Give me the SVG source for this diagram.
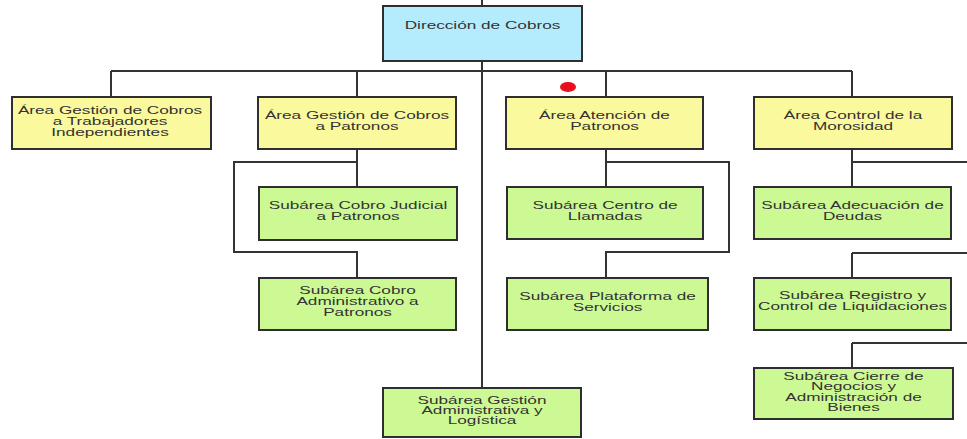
<svg xmlns="http://www.w3.org/2000/svg" width="967" height="439" viewBox="0 0 967 439">
<style>
.bx{stroke:#2e2e2e;stroke-width:2}
.top{fill:#b5ecfd}
.area{fill:#fbf99e}
.sub{fill:#cdf995}
.t{font-family:"Liberation Sans",Arial,sans-serif;font-size:10px;fill:#333;text-anchor:middle}
.c{fill:none;stroke:#333;stroke-width:2}
</style>
<rect width="967" height="439" fill="#fff"/>
<g id="connectors">
<path class="c" d="M482 0V6M482 61V388M111 71H852M111 71V97M357 71V97M606 71V97M852 71V97"/>
<path class="c" d="M357 149V187M357 162H234V252H357V278"/>
<path class="c" d="M606 149V187M606 162H729V252H606V278"/>
<path class="c" d="M852 149V187M852 162H968M852 253H968M852 253V278M852 343H968M852 343V368"/>
</g>
<ellipse cx="568" cy="87" rx="8" ry="5" fill="#e8101e"/>
<g id="n0"><rect class="bx top" x="383" y="6" width="199" height="55"/>
<text class="t" transform="translate(482.5 0) scale(1.72 1)"><tspan x="0" y="29.5">Dirección de Cobros</tspan></text></g>
<g id="n1"><rect class="bx area" x="12" y="97" width="199" height="52"/>
<text class="t" transform="translate(110 0) scale(1.72 1)"><tspan x="0" y="114.5">Área Gestión de Cobros</tspan><tspan x="0" y="125.5">a Trabajadores</tspan><tspan x="0" y="136.5">Independientes</tspan></text></g>
<g id="n2"><rect class="bx area" x="258" y="97" width="198" height="52"/>
<text class="t" transform="translate(357 0) scale(1.72 1)"><tspan x="0" y="119.5">Área Gestión de Cobros</tspan><tspan x="0" y="130.5">a Patronos</tspan></text></g>
<g id="n3"><rect class="bx area" x="506" y="97" width="197" height="52"/>
<text class="t" transform="translate(604.5 0) scale(1.72 1)"><tspan x="0" y="119.5">Área Atención de</tspan><tspan x="0" y="130.5">Patronos</tspan></text></g>
<g id="n4"><rect class="bx area" x="754" y="97" width="198" height="52"/>
<text class="t" transform="translate(853 0) scale(1.72 1)"><tspan x="0" y="119.5">Área Control de la</tspan><tspan x="0" y="130.5">Morosidad</tspan></text></g>
<g id="n5"><rect class="bx sub" x="259" y="187" width="198" height="53"/>
<text class="t" transform="translate(358 0) scale(1.72 1)"><tspan x="0" y="209.5">Subárea Cobro Judicial</tspan><tspan x="0" y="220.5">a Patronos</tspan></text></g>
<g id="n6"><rect class="bx sub" x="259" y="278" width="197" height="52"/>
<text class="t" transform="translate(357.5 0) scale(1.72 1)"><tspan x="0" y="294.5">Subárea Cobro</tspan><tspan x="0" y="305.5">Administrativo a</tspan><tspan x="0" y="316.5">Patronos</tspan></text></g>
<g id="n7"><rect class="bx sub" x="507" y="187" width="196" height="52"/>
<text class="t" transform="translate(605 0) scale(1.72 1)"><tspan x="0" y="209.5">Subárea Centro de</tspan><tspan x="0" y="220.5">Llamadas</tspan></text></g>
<g id="n8"><rect class="bx sub" x="507" y="278" width="201" height="52"/>
<text class="t" transform="translate(607.5 0) scale(1.72 1)"><tspan x="0" y="300.5">Subárea Plataforma de</tspan><tspan x="0" y="311.5">Servicios</tspan></text></g>
<g id="n9"><rect class="bx sub" x="754" y="187" width="197" height="52"/>
<text class="t" transform="translate(852.5 0) scale(1.72 1)"><tspan x="0" y="209.5">Subárea Adecuación de</tspan><tspan x="0" y="220.5">Deudas</tspan></text></g>
<g id="n10"><rect class="bx sub" x="754" y="278" width="197" height="52"/>
<text class="t" transform="translate(852.5 0) scale(1.72 1)"><tspan x="0" y="299.5">Subárea Registro y</tspan><tspan x="0" y="310.5">Control de Liquidaciones</tspan></text></g>
<g id="n11"><rect class="bx sub" x="754" y="368" width="199" height="51"/>
<text class="t" transform="translate(853.5 0) scale(1.72 1)"><tspan x="0" y="380.5">Subárea Cierre de</tspan><tspan x="0" y="390.5">Negocios y</tspan><tspan x="0" y="401">Administración de</tspan><tspan x="0" y="411.5">Bienes</tspan></text></g>
<g id="n12"><rect class="bx sub" x="383" y="388" width="198" height="49"/>
<text class="t" transform="translate(482 0) scale(1.72 1)"><tspan x="0" y="404.5">Subárea Gestión</tspan><tspan x="0" y="414.5">Administrativa y</tspan><tspan x="0" y="424.5">Logística</tspan></text></g>
</svg>
